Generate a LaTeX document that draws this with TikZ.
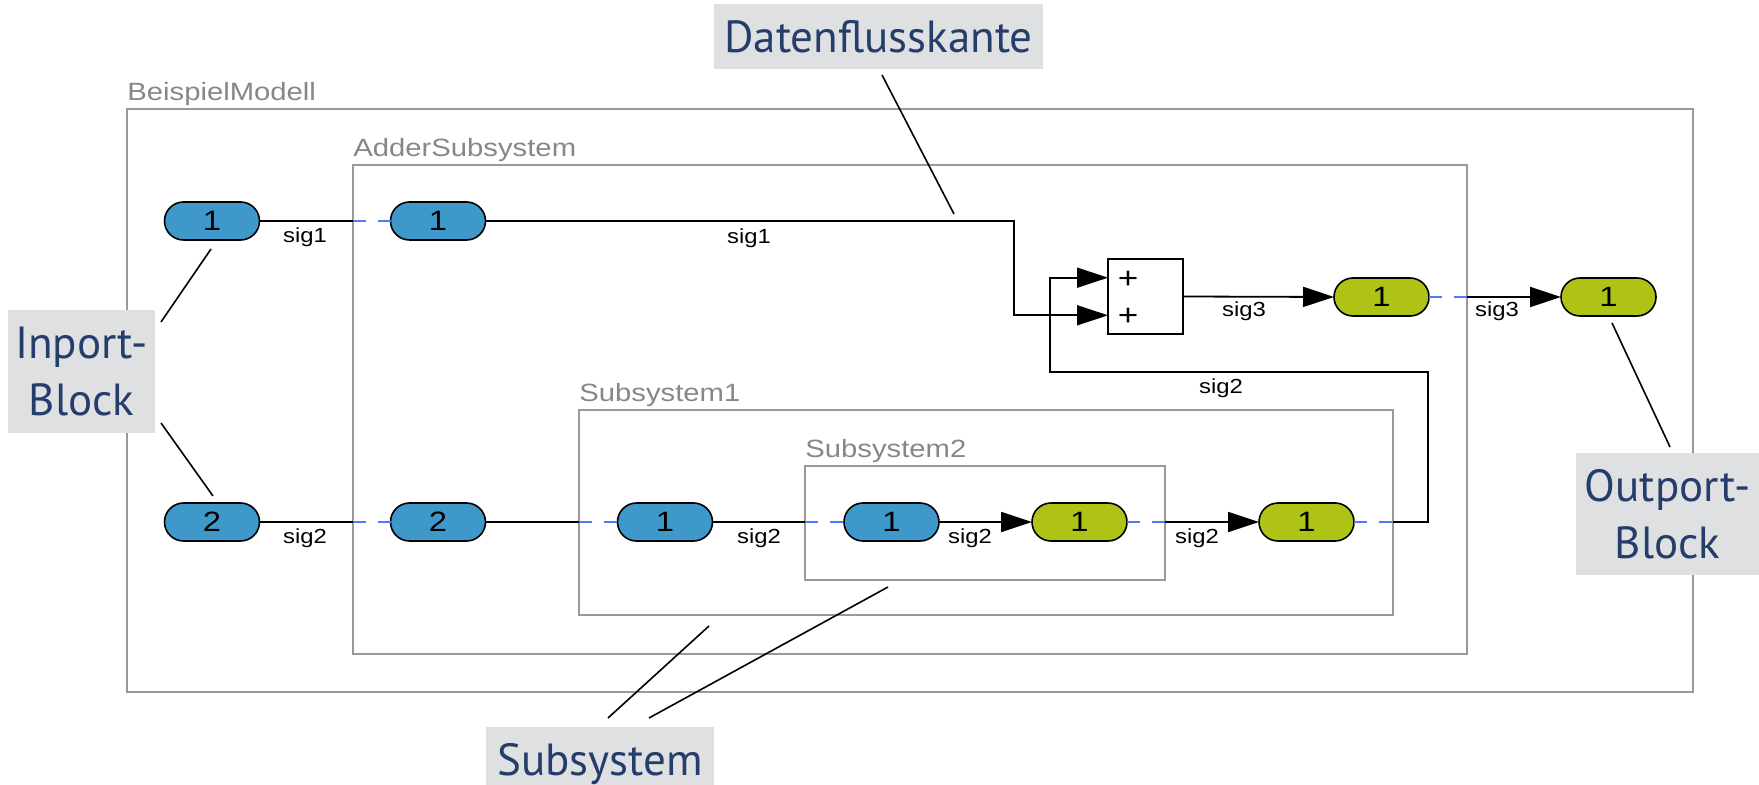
\documentclass[tikz,border=0pt]{standalone}
\usepackage{fontspec}
\usepackage{graphicx}
\setmainfont{Liberation Sans}
\newfontfamily\callfont{PT Sans}
\usetikzlibrary{arrows.meta,shapes.misc,fit}

\definecolor{portblue}{RGB}{62,152,201}
\definecolor{portgreen}{RGB}{174,195,22}
\definecolor{framegray}{RGB}{153,153,153}
\definecolor{labelgray}{RGB}{135,135,135}
\definecolor{dashblue}{RGB}{77,121,250}
\definecolor{callgray}{RGB}{223,224,226}
\definecolor{calltext}{RGB}{37,61,107}

% model texts are set slightly wide
\newcommand{\widetext}[1]{\scalebox{1.17}[1]{#1}}

\begin{document}
\begin{tikzpicture}[x=0.5pt,y=-0.5pt,
  sysframe/.style={draw=framegray, line width=1.3pt, inner sep=0pt, outer sep=0pt},
  framelabel/.style={anchor=base west, inner sep=0pt, text=labelgray,
    font=\fontsize{12.5}{15}\selectfont},
  port/.style={rounded rectangle, draw=black, line width=0.8pt,
    minimum width=47.5pt, minimum height=19pt, inner sep=0pt, outer sep=0pt,
    font=\fontsize{14}{16}\selectfont},
  inport/.style={port, fill=portblue},
  outport/.style={port, fill=portgreen},
  sumblock/.style={draw, line width=0.6pt, minimum width=37.5pt,
    minimum height=37.5pt, inner sep=0pt, outer sep=0pt, fill=white},
  plussign/.style={inner sep=0pt, font=\fontsize{15}{15}\selectfont},
  sig/.style={inner sep=0pt, font=\fontsize{10.2}{12}\selectfont},
  wire/.style={line width=0.9pt},
  link/.style={line width=0.9pt, draw=dashblue, dash pattern=on 6.5pt off 6pt},
  flow/.style={wire, -{Triangle[length=15.5pt,width=10pt]}},
  callout/.style={fill=callgray, text=calltext, inner sep=0pt,
    font=\callfont\fontsize{22.5}{28.5}\selectfont},
  pointer/.style={line width=0.8pt}
]
\useasboundingbox (0,0) rectangle (1759,785);

% system frames
\node[sysframe, fit={(127,109) (1693,692)}] (fmodel) {};
\node[sysframe, fit={(353,165) (1467,654)}] (fadder) {};
\node[sysframe, fit={(579,410) (1393,615)}] (fsub1) {};
\node[sysframe, fit={(805,466) (1165,580)}] (fsub2) {};
\node[framelabel] (lmodel) at ([yshift=4pt]fmodel.north west) {\widetext{BeispielModell}};
\node[framelabel] (ladder) at ([yshift=4pt]fadder.north west) {\widetext{AdderSubsystem}};
\node[framelabel] (lsub1) at ([yshift=4pt]fsub1.north west) {\widetext{Subsystem1}};
\node[framelabel] (lsub2) at ([yshift=4pt]fsub2.north west) {\widetext{Subsystem2}};

% ports
\node[inport] (in1) at (212,221) {\widetext{1}};
\node[inport] (in2) at (212,522) {\widetext{2}};
\node[inport] (ain1) at (438,221) {\widetext{1}};
\node[inport] (ain2) at (438,522) {\widetext{2}};
\node[inport] (s1in) at (665,522) {\widetext{1}};
\node[inport] (s2in) at (891.5,522) {\widetext{1}};
\node[outport] (s2out) at (1079.5,522) {\widetext{1}};
\node[outport] (s1out) at (1306.5,522) {\widetext{1}};
\node[outport] (aout) at (1381.5,297) {\widetext{1}};
\node[outport] (mout) at (1608.5,297) {\widetext{1}};

% sum block
\node[sumblock] (sum) at (1145.5,296.5) {};
\node[plussign] (plus1) at (1128,280) {\widetext{+}};
\node[plussign] (plus2) at (1128,317) {\widetext{+}};
\coordinate (sumin1) at ([yshift=9.4pt]sum.west);
\coordinate (sumin2) at ([yshift=-9.4pt]sum.west);

% bend points
\coordinate (b1) at (1014,221);
\coordinate (fb1) at (1428,522);
\coordinate (fb2) at (1050,372);

% signal lines
\draw[wire] (in1.east) -- (in1.east -| fadder.west);
\draw[link] (in1.east -| fadder.west) -- (ain1.west);
\draw[flow] (ain1.east) -- (b1) |- (sumin2);
\draw[flow] (sum.east) -- (aout.west);
\draw[link] (aout.east) -- (aout.east -| fadder.east);
\draw[flow] (aout.east -| fadder.east) -- (mout.west);

\draw[wire] (in2.east) -- (in2.east -| fadder.west);
\draw[link] (in2.east -| fadder.west) -- (ain2.west);
\draw[wire] (ain2.east) -- (ain2.east -| fsub1.west);
\draw[link] (ain2.east -| fsub1.west) -- (s1in.west);
\draw[wire] (s1in.east) -- (s1in.east -| fsub2.west);
\draw[link] (s1in.east -| fsub2.west) -- (s2in.west);
\draw[flow] (s2in.east) -- (s2out.west);
\draw[link] (s2out.east) -- (s2out.east -| fsub2.east);
\draw[flow] (s2out.east -| fsub2.east) -- (s1out.west);
\draw[link] (s1out.east) -- (s1out.east -| fsub1.east);
\draw[flow] (s1out.east -| fsub1.east) -- (fb1) |- (fb2) |- (sumin1);

% signal names
\node[sig] (t1) at (305,237) {\widetext{sig1}};
\node[sig] (t2) at (749,238) {\widetext{sig1}};
\node[sig] (t3) at (1244,311) {\widetext{sig3}};
\node[sig] (t4) at (1497,311) {\widetext{sig3}};
\node[sig] (t5) at (1221,388) {\widetext{sig2}};
\node[sig] (t6) at (305,538) {\widetext{sig2}};
\node[sig] (t7) at (759,538) {\widetext{sig2}};
\node[sig] (t8) at (970,538) {\widetext{sig2}};
\node[sig] (t9) at (1197,538) {\widetext{sig2}};

% callouts
\node[callout, minimum width=164.5pt, minimum height=32.5pt, text height=16.5pt, text depth=0pt] (cdk) at (878.5,36.5) {Datenflusskante};
\node[callout, align=center, minimum width=73.5pt, minimum height=61.5pt] (cin) at (81.5,371.5) {Inport-\\Block};
\node[callout, align=center, minimum width=91.5pt, minimum height=61pt] (cout) at (1667.5,514) {Outport-\\Block};
\node[callout, minimum width=114pt, minimum height=29pt, text height=19.5pt, text depth=0pt] (csub) at (600,756) {Subsystem};

\coordinate (pdk1) at (882,75);   \coordinate (pdk2) at (954,214);
\coordinate (pin1) at (161,322);  \coordinate (pin2) at (211,249);
\coordinate (pin3) at (161,423);  \coordinate (pin4) at (213,496);
\coordinate (pout1) at (1670,447); \coordinate (pout2) at (1612,323);
\coordinate (psub1) at (608,718); \coordinate (psub2) at (709,626);
\coordinate (psub3) at (649,718); \coordinate (psub4) at (888,587);
\draw[pointer] (pdk1) -- (pdk2);
\draw[pointer] (pin1) -- (pin2);
\draw[pointer] (pin3) -- (pin4);
\draw[pointer] (pout1) -- (pout2);
\draw[pointer] (psub1) -- (psub2);
\draw[pointer] (psub3) -- (psub4);
\end{tikzpicture}
\end{document}
